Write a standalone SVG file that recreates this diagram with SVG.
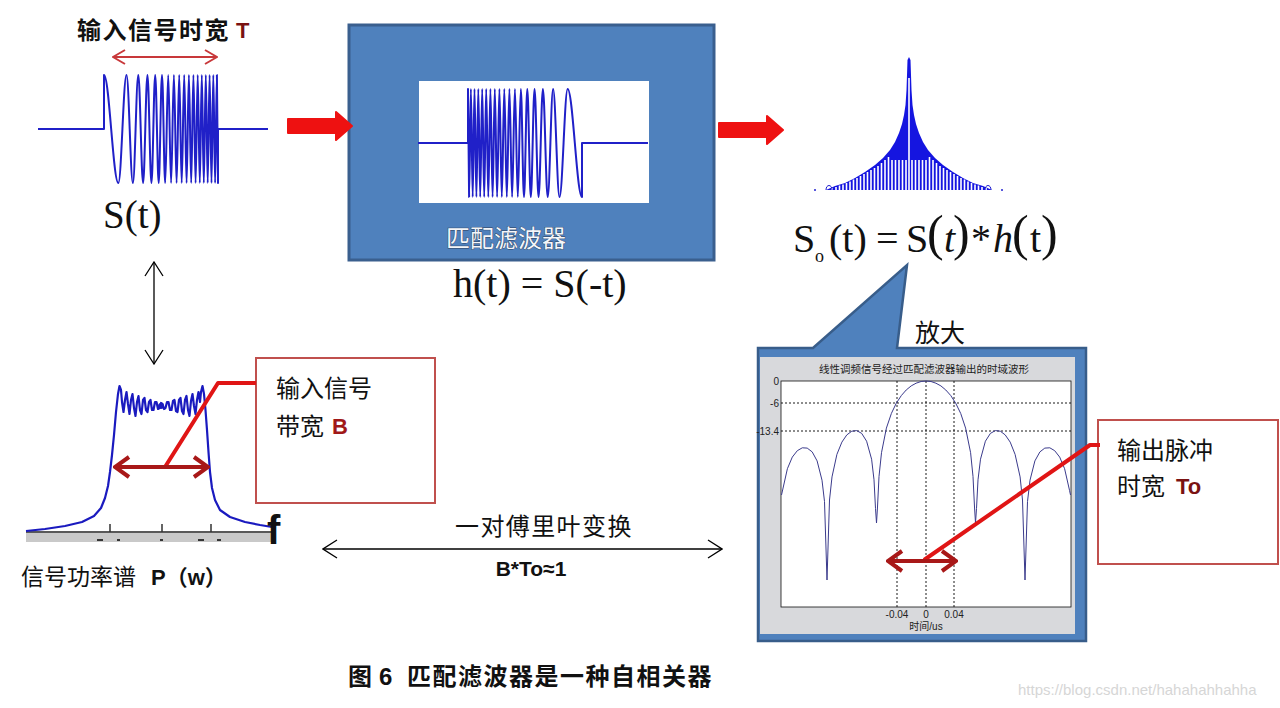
<svg xmlns="http://www.w3.org/2000/svg" width="1280" height="708" viewBox="0 0 1280 708">
<style>
.cjk{font-family:"Noto Sans CJK SC","Noto Sans CJK JP",sans-serif}
.ser{font-family:"Liberation Serif","Times New Roman",serif}
.san{font-family:"Liberation Sans",Arial,"Noto Sans CJK SC",sans-serif}
.wave{fill:none;stroke:#2020c8;stroke-width:2;stroke-linejoin:round}
.redbox{fill:#fff;stroke:#C0504D;stroke-width:2}
.ptr{fill:none;stroke:#E01515;stroke-width:4;stroke-linejoin:round}
.dbl{fill:none;stroke:#A81818;stroke-width:4}
.thin{fill:none;stroke:#000;stroke-width:1.3}
.dash{fill:none;stroke:#000;stroke-width:0.9;stroke-dasharray:2 2}
.lbl{font-family:"Liberation Sans",Arial,sans-serif;font-size:10px;fill:#222}
</style>
<defs>
<marker id="chevBlack" viewBox="0 0 16 20" refX="15" refY="10" markerWidth="16" markerHeight="20" markerUnits="userSpaceOnUse" orient="auto-start-reverse">
<path d="M1,1 L15,10 L1,19" fill="none" stroke="#000" stroke-width="1.3"/>
</marker>
<marker id="chevRed" viewBox="0 0 14 16" refX="13" refY="8" markerWidth="14" markerHeight="16" markerUnits="userSpaceOnUse" orient="auto-start-reverse">
<path d="M1,1 L13,8 L1,15" fill="none" stroke="#C8383A" stroke-width="2"/>
</marker>
<marker id="chevDark" viewBox="0 0 18 24" refX="16" refY="12" markerWidth="18" markerHeight="24" markerUnits="userSpaceOnUse" orient="auto-start-reverse">
<path d="M2,2 L16,12 L2,22" fill="none" stroke="#A81818" stroke-width="4"/>
</marker>
<path id="blockArrow" d="M0,7 L48,7 L48,0 L64,14 L48,28 L48,21 L0,21 Z" fill="#EE1111" stroke="#EE1111" stroke-width="2" stroke-linejoin="round"/>
<path id="chirp" class="wave" d="M38,129 L104,129 L104,75 C109.22,75 113.13,183 118.35,183 C121.32,183 123.53,75 126.5,75 C128.83,75 130.57,183 132.9,183 C134.87,183 136.33,75 138.3,75 C140.05,75 141.35,183 143.1,183 C144.68,183 145.87,75 147.45,75 C148.91,75 149.99,183 151.45,183 C152.82,183 153.83,75 155.2,75 C156.47,75 157.43,183 158.7,183 C159.9,183 160.8,75 162,75 C163.16,75 164.04,183 165.2,183 C166.29,183 167.11,75 168.2,75 C169.26,75 170.04,183 171.1,183 C172.12,183 172.88,75 173.9,75 C174.88,75 175.62,183 176.6,183 C177.55,183 178.25,75 179.2,75 C180.11,75 180.79,183 181.7,183 C182.61,183 183.29,75 184.2,75 C185.07,75 185.73,183 186.6,183 C187.44,183 188.06,75 188.9,75 C189.74,75 190.36,183 191.2,183 C192,183 192.6,75 193.4,75 C194.2,75 194.8,183 195.6,183 C196.36,183 196.94,75 197.7,75 C198.46,75 199.04,183 199.8,183 C200.53,183 201.07,75 201.8,75 C202.53,75 203.07,183 203.8,183 C204.53,183 205.07,75 205.8,75 C206.49,75 207.01,183 207.7,183 C208.39,183 208.91,75 209.6,75 C210.29,75 210.81,183 211.5,183 C212.16,183 212.64,75 213.3,75 C213.96,75 214.44,183 215.1,183 C215.76,183 216.24,75 216.9,75 L218,183 L218,129 L268,129"/>
</defs>
<rect width="1280" height="708" fill="#fff"/>

<g id="input-signal">
<text class="cjk" x="77" y="39" font-size="24" font-weight="bold" letter-spacing="1.5" fill="#111">输入信号时宽</text>
<text class="san" x="236" y="38" font-size="22" font-weight="bold" fill="#7a1212">T</text>
<use href="#chirp"/>
<text class="ser" x="103" y="228" font-size="39" fill="#111">S(t)</text>
</g>

<g id="filter">
<rect x="349" y="25" width="365" height="235" fill="#4F81BD" stroke="#3A5F8E" stroke-width="3"/>
<rect x="419" y="81" width="230" height="122" fill="#fff"/>
<use href="#chirp" transform="matrix(-1 0 0 -1 686 272)"/>
<text class="cjk" x="446" y="247" font-size="24" fill="#f4f6fa" stroke="#2d3f5a" stroke-width="0.8" paint-order="stroke">匹配滤波器</text>
<text class="ser" x="453" y="297" font-size="40" fill="#111">h(t) = S(-t)</text>
</g>

<g id="output-signal">
<path fill="#1515e0" d="M826,190 L835,186 L845,183 L855,178 L865,172 L875,165 L883,158 L890,150 L895,142 L899,133 L902,124 L904,115 L905.5,105 L906.5,90 L907,75 L907.5,60 L909,57 L910.5,60 L911,75 L911.5,90 L912.5,105 L914,115 L916,124 L919,133 L923,142 L928,150 L935,158 L943,165 L953,172 L963,178 L973,183 L983,186 L992,190 Z"/>
<path fill="none" stroke="#fff" stroke-width="1.6" d="M909,78V191 M906,160V191 M912,160V191 M902.5,160V191 M915.5,160V191 M899,160V191 M919,160V191 M895.5,160V191 M922.5,160V191 M892,160V191 M926,160V191 M888.5,157V191 M929.5,157V191 M885,160V191 M933,160V191 M881.5,163V191 M936.5,163V191 M878,166V191 M940,166V191 M874.5,168V191 M943.5,168V191 M871,170V191 M947,170V191 M867.5,172V191 M950.5,172V191 M864,174V191 M954,174V191 M860.5,176V191 M957.5,176V191 M857,178V191 M961,178V191 M853.5,179.5V191 M964.5,179.5V191 M850,181.5V191 M968,181.5V191 M846.5,183V191 M971.5,183V191 M843,184.5V191 M975,184.5V191 M839.5,185.5V191 M978.5,185.5V191 M836,187V191 M982,187V191 M832,188V191 M986,188V191"/>
<path fill="none" stroke="#2020d0" stroke-width="1" d="M826,190 C826,184 832,184 832,190 M985,190 C985,184 991,184 991,190"/>
<circle cx="815" cy="190" r="1" fill="#2020d0"/>
<circle cx="1002" cy="190" r="1" fill="#2020d0"/>
<text class="ser" y="252" font-size="40" fill="#111"><tspan x="793">S</tspan><tspan x="815" y="262" font-size="18">o</tspan><tspan x="829" y="252">(t)</tspan><tspan x="876">=</tspan><tspan x="906">S</tspan><tspan x="927" y="250" font-size="50">(</tspan><tspan x="944" y="252" font-style="italic">t</tspan><tspan x="953" y="250" font-size="50">)</tspan><tspan x="971" y="252">*</tspan><tspan x="993" font-style="italic">h</tspan><tspan x="1012" y="250" font-size="50">(</tspan><tspan x="1030" y="252">t</tspan><tspan x="1041" y="250" font-size="50">)</tspan></text>
</g>

<g id="spectrum">
<rect x="26" y="533" width="246" height="9" fill="#c9c9c9"/>
<path d="M26,532 H272" stroke="#222" stroke-width="1.5"/>
<path d="M110,524V532 M162,524V532 M211,524V532" stroke="#333" stroke-width="1.5"/>
<path d="M97,540h6 M117,540h3 M160,540h3 M198,540h6 M217,540h4" stroke="#333" stroke-width="2"/>
<path fill="none" stroke="#1a1abf" stroke-width="2.2" stroke-linejoin="round" d="M26,531 L45,529 L65,526 L82,522 L94,516 L101,508 L105,498 L108,486 L110,472 L112,455 L114,435 L116,412 L118,394 L119.5,386 L121,390 L122,402 L123.5,412 L125,400 L126.5,392 L128,404 L129.5,414 L131,400 L132.5,394 L134,408 L135.5,416 L137,402 L138.5,396 L140,410 L141.5,414 L143,400 L144.5,398 L146,410 L147.5,412 L149,402 L150.5,400 L152,410 L153.5,410 L155,402 L156.5,402 L158,409 L159.5,408 L161,403 L162.5,404 L164,409 L165.5,408 L167,402 L168.5,402 L170,410 L171.5,410 L173,401 L174.5,400 L176,411 L177.5,412 L179,400 L180.5,398 L182,411 L183.5,414 L185,400 L186.5,396 L188,410 L189.5,416 L191,401 L192.5,394 L194,406 L195.5,414 L197,400 L198.5,392 L200,402 L201,392 L202.5,386 L204,394 L205.5,410 L207,430 L208.5,452 L210,472 L212,488 L215,500 L220,510 L230,517 L245,522 L260,525 L272,527"/>
<circle cx="161" cy="406" r="3" fill="#1a1abf"/>
<text class="san" x="267" y="544" font-size="40" font-weight="bold" fill="#111">f</text>
<text class="cjk" x="21" y="585" font-size="23" fill="#111">信号功率谱</text>
<text class="san" x="151" y="585" font-size="22" font-weight="bold" fill="#111">P（w）</text>
</g>

<g id="bandwidth-note">
<rect class="redbox" x="256" y="358" width="179" height="145"/>
<text class="cjk" x="276" y="397" font-size="24" fill="#111">输入信号</text>
<text class="cjk" x="276" y="435" font-size="24" fill="#111">带宽</text>
<text class="san" x="332" y="434" font-size="22" font-weight="bold" fill="#A01818">B</text>
</g>

<g id="zoom-callout">
<path d="M758,348 L813,348 L907,265 L897,348 L1086,348 L1086,641 L758,641 Z" fill="#4F81BD" stroke="#385D8A" stroke-width="2.5" stroke-linejoin="miter"/>
<rect x="760" y="357" width="315" height="277" fill="#d8d9dc"/>
<text class="cjk" x="915" y="342" font-size="25" fill="#111">放大</text>
<rect x="781" y="381" width="290" height="226" fill="#fff" stroke="#111" stroke-width="0.8"/>
<text class="cjk" x="924" y="373" font-size="10.5" fill="#222" text-anchor="middle">线性调频信号经过匹配滤波器输出的时域波形</text>
<path class="dash" d="M781,403H1071 M781,431H1071 M897,381V607 M926,381V607 M954,381V607"/>
<text class="lbl" x="779" y="385" text-anchor="end">0</text>
<text class="lbl" x="779" y="407" text-anchor="end">-6</text>
<text class="lbl" x="779" y="435" text-anchor="end">-13.4</text>
<text class="lbl" x="897" y="618" text-anchor="middle">-0.04</text>
<text class="lbl" x="926" y="618" text-anchor="middle">0</text>
<text class="lbl" x="954" y="618" text-anchor="middle">0.04</text>
<text x="926" y="630" font-size="10" fill="#222" text-anchor="middle" font-family="Liberation Sans,Noto Sans CJK SC,sans-serif">时间/us</text>
<polyline fill="none" stroke="#3b3b8c" stroke-width="1" points="781.5,495 787.4,468.7 792.3,457.1 797.3,450.7 802.3,447.8 807.2,448.1 812.2,451.9 817.1,460.9 822,480.2 824.5,501.5 827,580 829.5,500 832,476.9 836.9,454.4 841.9,442.1 846.8,434.9 851.8,431.2 856.7,430.6 861.7,433.4 866.6,441.2 871.6,459.2 874,479.8 875.5,508.5 876.5,523 877.5,507 879,476.5 881.5,452.7 886.4,428.1 891.4,413.4 896.3,403.2 901.3,395.6 906.2,390 911.2,385.9 916.1,383.2 921.1,381.5 926,381 931,381.5 935.9,383.2 940.9,385.9 945.8,390 950.8,395.6 955.7,403.2 960.7,413.4 965.6,428.1 970.6,452.7 973,476.5 974.5,507 975.5,523 976.5,508.5 978,479.8 980.5,459.2 985.4,441.2 990.4,433.4 995.3,430.6 1000.3,431.2 1005.2,434.9 1010.2,442.1 1015.1,454.4 1020.1,476.9 1022.5,500 1025,580 1027.5,501.5 1030,480.2 1034.9,460.9 1039.9,451.9 1044.8,448.1 1049.8,447.8 1054.7,450.7 1059.7,457.1 1064.6,468.7 1069.6,490.7 1070.5,495"/>
</g>

<g id="pulse-note">
<rect class="redbox" x="1098" y="420" width="180" height="144"/>
<text class="cjk" x="1117" y="459" font-size="24" fill="#111">输出脉冲</text>
<text class="cjk" x="1117" y="495" font-size="24" fill="#111">时宽</text>
<text class="san" x="1176" y="494" font-size="22" font-weight="bold" fill="#7a1212">To</text>
</g>

<g id="connectors">
<path d="M113,57 H217" fill="none" stroke="#C8383A" stroke-width="2" marker-start="url(#chevRed)" marker-end="url(#chevRed)"/>
<use href="#blockArrow" transform="translate(288,112)"/>
<use href="#blockArrow" transform="translate(719,116)"/>
<path class="thin" d="M154,262 V364" marker-start="url(#chevBlack)" marker-end="url(#chevBlack)"/>
<path class="thin" d="M323,549 H722" marker-start="url(#chevBlack)" marker-end="url(#chevBlack)"/>
<path class="ptr" d="M256,383 H218 L165,467"/>
<path class="dbl" d="M115,467 H208" marker-start="url(#chevDark)" marker-end="url(#chevDark)"/>
<path class="ptr" d="M1100,445 H1090 L924,560"/>
<path class="dbl" d="M888,561 H956" marker-start="url(#chevDark)" marker-end="url(#chevDark)"/>
</g>

<g id="labels">
<text class="cjk" x="455" y="535" font-size="24" letter-spacing="1.4" fill="#111">一对傅里叶变换</text>
<text class="san" x="531" y="576" font-size="21" font-weight="bold" fill="#111" text-anchor="middle">B*To≈1</text>
<text class="cjk" y="685" font-size="24" font-weight="bold" fill="#111"><tspan x="348">图</tspan><tspan x="379" font-family="Liberation Sans,sans-serif">6</tspan><tspan x="407" letter-spacing="1.5">匹配滤波器是一种自相关器</tspan></text>
<text class="san" x="1018" y="695" font-size="15" fill="#d6d6d6">https://blog.csdn.net/hahahahhahha</text>
</g>
</svg>
